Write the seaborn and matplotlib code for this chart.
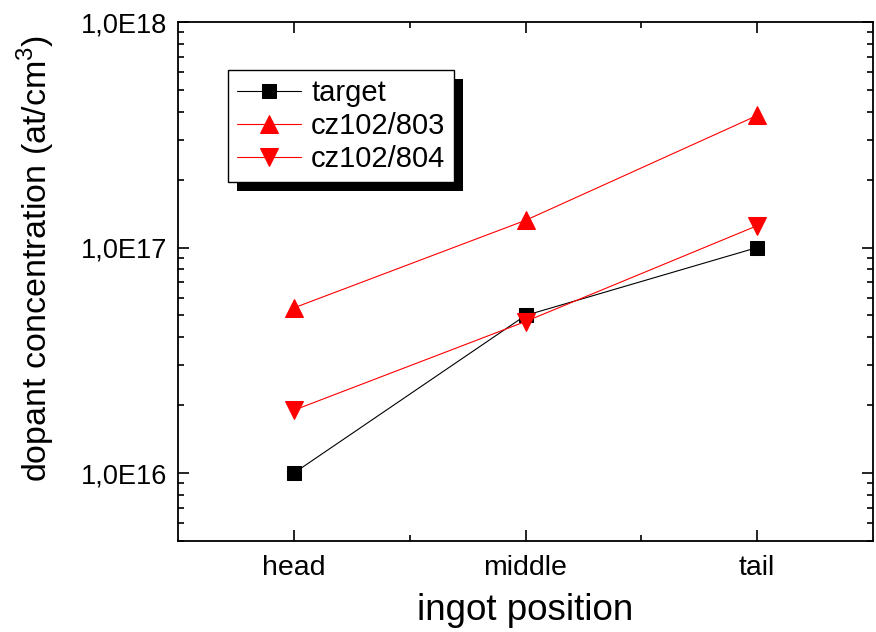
import matplotlib
matplotlib.use("Agg")
import matplotlib.pyplot as plt
import matplotlib.ticker as mticker
from matplotlib.patches import Rectangle
import seaborn as sns
import pandas as pd
import numpy as np

positions = ["head", "middle", "tail"]
target = [1.0e16, 5.0e16, 1.0e17]
cz803 = [5.4e16, 1.32e17, 3.85e17]
cz804 = [1.9e16, 4.7e16, 1.25e17]

sns.set_style("ticks")
plt.rcParams["font.family"] = ["Liberation Sans", "DejaVu Sans"]
plt.rcParams["mathtext.fontset"] = "custom"
plt.rcParams["mathtext.rm"] = "Liberation Sans"
for k in ["text.color", "axes.labelcolor", "xtick.color", "ytick.color", "axes.edgecolor"]:
    plt.rcParams[k] = "black"

fig = plt.figure(figsize=(8.76, 6.32), dpi=100)
ax = fig.add_axes([178/876, 1-541/632, (873-178)/876, (541-22)/632])

xs = np.arange(len(positions))
series = [("target", target, "black", "s", 10),
          ("cz102/803", cz803, "red", "^", 13),
          ("cz102/804", cz804, "red", "v", 13)]
for name, vals, col, mk, ms in series:
    df = pd.DataFrame({"x": xs, "y": vals})
    sns.lineplot(data=df, x="x", y="y", ax=ax, color=col, marker=mk,
                 markersize=ms, markeredgecolor=col, linewidth=0.8, label=name)

ax.set_yscale("log")
ax.set_ylim(5e15, 1e18)
ax.set_xlim(-0.5, 2.5)
ax.set_xticks(xs)
ax.set_xticklabels(positions)
ax.xaxis.set_minor_locator(mticker.FixedLocator([0.5, 1.5]))
ax.yaxis.set_major_locator(mticker.FixedLocator([1e16, 1e17, 1e18]))
ax.yaxis.set_major_formatter(mticker.FixedFormatter(["1,0E16", "1,0E17", "1,0E18"]))
ax.yaxis.set_minor_locator(mticker.LogLocator(base=10, subs=np.arange(2, 10)))
ax.yaxis.set_minor_formatter(mticker.NullFormatter())
ax.tick_params(which="both", direction="in", top=True, right=True, width=1.2)
ax.tick_params(which="major", length=8, pad=8)
ax.tick_params(axis="x", which="major", labelsize=20.5, pad=10)
ax.tick_params(axis="y", which="major", labelsize=19.5)
ax.tick_params(which="minor", length=4)
for s in ax.spines.values():
    s.set_linewidth(1.3)
ax.set_xlabel("ingot position", fontsize=26.5, labelpad=9)
ax.set_ylabel("dopant concentration (at/cm$^3$)", fontsize=24.5)
ax.yaxis.set_label_coords((57 - 178) / 695, (541 - 258) / 519)

leg = ax.legend(loc="upper left", bbox_to_anchor=((228-178)/695, (541-70)/519),
                borderaxespad=0, fontsize=21, frameon=True, fancybox=False,
                edgecolor="black", framealpha=1, handlelength=2.2,
                handletextpad=0.35, borderpad=0.3, labelspacing=0.18)
leg.get_frame().set_linewidth(1.0)
leg.set_zorder(6)
fig.canvas.draw()
bb = leg.get_window_extent()
sh = Rectangle((bb.x0 + 9, bb.y0 - 9), bb.width, bb.height, transform=None,
               facecolor="black", edgecolor="none", clip_on=False, zorder=5.5)
ax.add_artist(sh)

fig.savefig("out.png", dpi=100)
